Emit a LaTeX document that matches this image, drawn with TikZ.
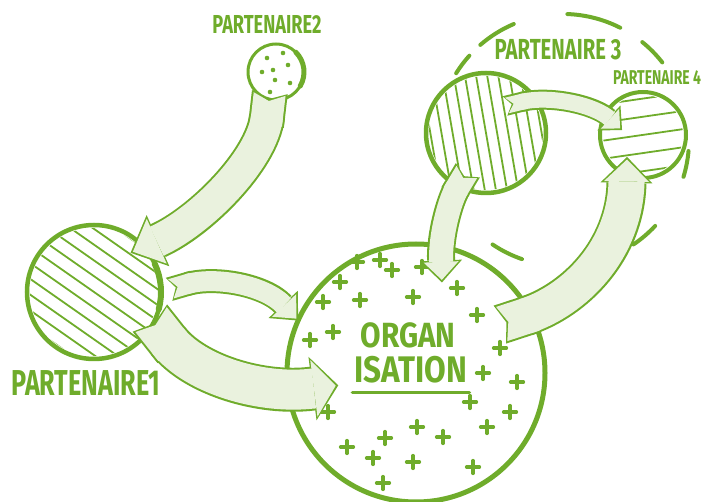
\documentclass[tikz,border=0pt]{standalone}
\usepackage{fontspec}
\usepackage{xcolor}
\usepackage{tikz}
\usetikzlibrary{arrows.meta,calc}
\newfontfamily\handfont[FakeStretch=0.7]{Fira Sans}
\newfontfamily\handwide[FakeStretch=0.85]{Fira Sans}
\definecolor{leaf}{HTML}{6FAC2B}
\definecolor{pale}{HTML}{EAF2DE}

\begin{document}
\begin{tikzpicture}[
  x=1pt, y=-1pt,
  blob/.style={circle, draw=leaf, line width=4pt, inner sep=0pt, outer sep=0pt, minimum size=#1},
  lbl/.style={text=leaf, inner sep=0pt, font=\handfont\bfseries\fontsize{#1}{#1}\selectfont},
  orgtxt/.style={text=leaf, inner sep=0pt, font=\handwide\bfseries\fontsize{#1}{#1}\selectfont},
  hatch/.style={draw=leaf, line width=1.8pt},
  ring/.style={draw=leaf, line width=4pt, line cap=round},
  cross/.style={draw=leaf, line width=3.2pt, line cap=round},
  flow/.style n args={3}{draw=leaf, line width=#1,
    {Triangle Cap[reversed,length=7pt]}-{Triangle[length=#2, width=#3, line width=0pt]},
    postaction={draw=pale, line width=#1-4pt, shorten >=2.6pt, shorten <=2pt,
      {Triangle Cap[reversed,length=7pt]}-{Triangle[length=#2-4pt, width=#3-7pt, line width=0pt]}}}
]
  \useasboundingbox (0,0) rectangle (702,502);

  % partners and organisation
  \node[blob=258pt, line width=5pt] (org) at (416,373) {};
  \node[blob=134pt, line width=4.5pt] (p1) at (94,292) {};
  \node[blob=56pt, line width=3pt] (p2) at (276,72) {};
  \node[blob=120pt, line width=4.5pt] (p3) at (486,133) {};
  \node[blob=86pt] (p4) at (643,135) {};
  \node[circle, inner sep=0pt, outer sep=0pt, minimum size=252pt] (grp) at (563,140) {};

  % hatching
  \begin{scope}
    \clip (p1.center) circle (64);
    \foreach \k in {-5,...,5}
      \draw[hatch] ([shift={(-7.4*\k-80, 10.6*\k-56)}]p1.center) -- ++(160,112);
  \end{scope}
  \begin{scope}
    \clip (p3.center) circle (57);
    \foreach \k in {-5,...,5}
      \draw[hatch] ([shift={(10.8*\k-12, -1.9*\k-69)}]p3.center) -- ++(24,138);
  \end{scope}
  \begin{scope}
    \clip (p4.center) circle (40);
    \foreach \k in {-2,...,2}
      \draw[hatch] ([shift={(2.5*\k-59, 17.8*\k+8.4)}]p4.center) -- ++(118,-17);
  \end{scope}
  \foreach \dx/\dy in {-9/-14, 7/-19, -3/-2, -14/0, -1/8, 14/11, -6/20, 12/-7}
    \fill[leaf] ([shift={(\dx,\dy)}]p2.center) circle (2.3);
  \foreach \x/\y in {380/260, 357/262, 392/270, 422/267, 340/282, 457/288, 323/302,
      360/300, 413/297, 477/315, 333/332, 310/340, 500/348, 483/373, 517/382,
      470/402, 510/412, 328/412, 487/427, 443/437, 417/427, 385/438, 347/447,
      373/458, 413/462, 473/467, 383/483}
    \draw[cross] (\x-6.5,\y) -- (\x+6.5,\y) (\x,\y-6.5) -- (\x,\y+6.5);

  % dashed ring and sketch strokes
  \begin{scope}[yscale=-1]
    \foreach \a/\b in {148/138, 131/113, 88/63, 51/38, -5/-17, -56/-43, -124/-109}
      \draw[ring] (grp.\a) arc[start angle=\a, end angle=\b, radius=126];
    \draw[ring, line width=5pt] (p2.45) arc[start angle=45, end angle=-30, radius=28];
    \draw[ring, line width=6pt] (p1.25) arc[start angle=25, end angle=-15, radius=67];
  \end{scope}

  % flows
  \draw[flow={36pt}{30pt}{56pt}] ($(p2)!0.75!(p2.-107)$) .. controls (262,160) and (200,222) .. ($(p1)!0.8!(p1.47)$);
  \draw[flow={24pt}{22pt}{40pt}] ($(p1)!1.12!(p1.2)$) .. controls (215,276) and (265,285) .. (org.156);
  \draw[flow={44pt}{26pt}{64pt}] ($(p1)!0.92!(p1.-25)$) .. controls (195,375) and (262,395) .. ($(org)!0.61!(org.189)$);
  \draw[flow={28pt}{22pt}{42pt}] ($(p3)!0.69!(p3.-116)$) .. controls (450,200) and (440,235) .. ($(org)!0.73!(org.74)$);
  \draw[flow={40pt}{26pt}{52pt}] ($(org)!0.75!(org.30)$) .. controls (575,300) and (625,250) .. ($(p4)!0.63!(p4.-126)$);
  \draw[flow={20pt}{18pt}{34pt}] ($(p3)!0.55!(p3.55)$) .. controls (550,95) and (595,105) .. ($(p4)!0.5!(p4.167)$);

  % labels
  \node[lbl=26] (n2) at (267,24) {PARTENAIRE2};
  \node[lbl=36] (n1) at (86,383) {PARTENAIRE1};
  \node[lbl=29] (n3) at (558,50) {PARTENAIRE 3};
  \node[lbl=20] (n4) at (657,78) {PARTENAIRE 4};
  \node[orgtxt=35] (organ) at (408,335) {ORGAN};
  \node[orgtxt=37] (isation) at (411,370) {ISATION};
  \draw[ring, line width=3.5pt] (isation.south west) ++(-2,9) -- ++(117,0);
\end{tikzpicture}
\end{document}
